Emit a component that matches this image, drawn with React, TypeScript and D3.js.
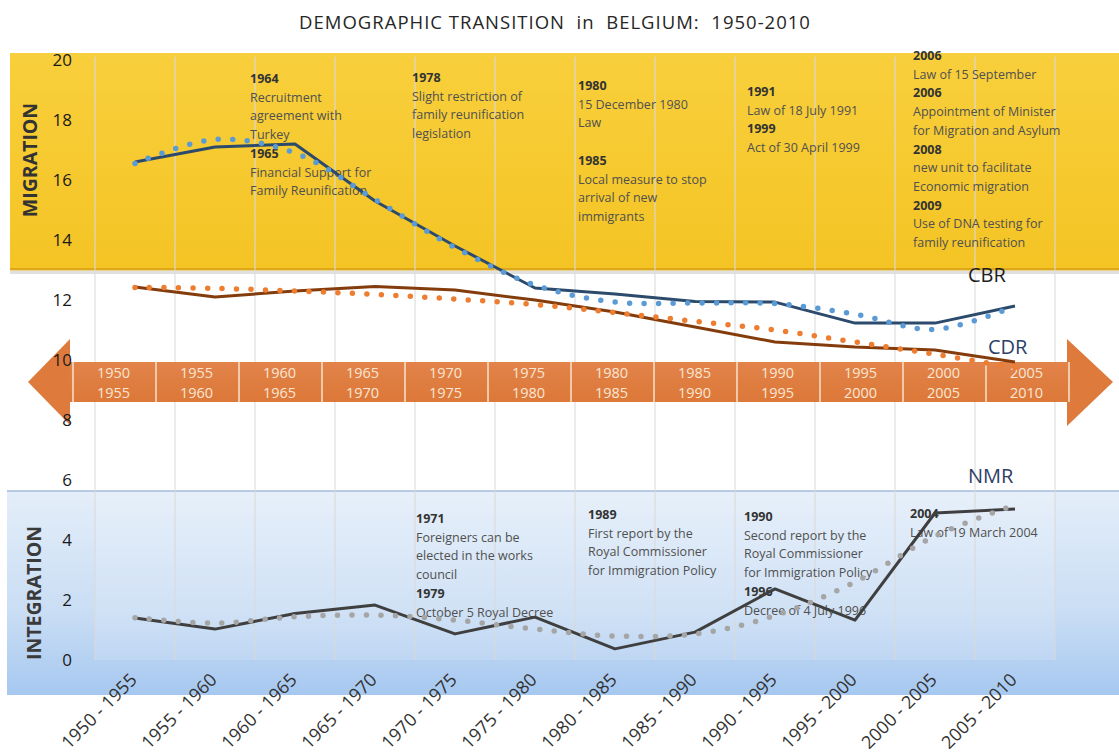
import React from "react";
import * as d3 from "d3";

// ---------- DATA ----------
const categories = [
  "1950 - 1955", "1955 - 1960", "1960 - 1965", "1965 - 1970", "1970 - 1975", "1975 - 1980",
  "1980 - 1985", "1985 - 1990", "1990 - 1995", "1995 - 2000", "2000 - 2005", "2005 - 2010",
];
const periodStarts = ["1950", "1955", "1960", "1965", "1970", "1975", "1980", "1985", "1990", "1995", "2000", "2005"];
const periodEnds = ["1955", "1960", "1965", "1970", "1975", "1980", "1985", "1990", "1995", "2000", "2005", "2010"];

const cbr = [16.6, 17.1, 17.2, 15.3, 13.8, 12.4, 12.2, 11.95, 11.93, 11.23, 11.23, 11.8];
const cbrTrend = [16.55, 17.35, 16.9, 15.35, 13.75, 12.5, 11.93, 11.9, 11.88, 11.53, 11.02, 11.8];
const cdr = [12.43, 12.1, 12.3, 12.45, 12.33, 12.0, 11.6, 11.1, 10.6, 10.43, 10.33, 9.93];
const cdrTrend = [12.42, 12.39, 12.3, 12.19, 12.03, 11.85, 11.58, 11.29, 11.0, 10.6, 10.19, 9.75];
const nmr = [1.4, 1.03, 1.55, 1.83, 0.87, 1.43, 0.37, 0.93, 2.37, 1.33, 4.9, 5.03];
const nmrTrend = [1.41, 1.23, 1.44, 1.5, 1.33, 1.03, 0.8, 0.87, 1.48, 2.6, 4.13, 5.17];

const yTicks = [0, 2, 4, 6, 8, 10, 12, 14, 16, 18, 20];

const title = "DEMOGRAPHIC TRANSITION  in  BELGIUM:  1950-2010";

// annotation texts ("**" = bold year)
const noteMigration1 = ["**1964", "Recruitment", "agreement with", "Turkey", "**1965", "Financial Support for", "Family Reunification"];
const noteMigration2 = ["**1978", "Slight restriction of", "family reunification", "legislation"];
const noteMigration3 = ["**1980", "15 December 1980", "Law", "", "**1985", "Local measure to stop", "arrival of new", "immigrants"];
const noteMigration4 = ["**1991", "Law of 18 July 1991", "**1999", "Act of 30 April 1999"];
const noteMigration5 = [
  "**2006", "Law of 15 September", "**2006", "Appointment of Minister", "for Migration and Asylum",
  "**2008", "new unit to facilitate", "Economic migration", "**2009", "Use of DNA testing for", "family reunification",
];
const noteIntegration1 = ["**1971", "Foreigners can be", "elected in the works", "council", "**1979", "October 5 Royal Decree"];
const noteIntegration2 = ["**1989", "First report by the", "Royal Commissioner", "for Immigration Policy"];
const noteIntegration3 = ["**1990", "Second report by the", "Royal Commissioner", "for Immigration Policy", "**1996", "Decree of 4 July 1996"];
const noteIntegration4 = ["**2004", "Law of 19 March 2004"];

// ---------- LAYOUT ----------
const W = 1119;
const H = 756;
const FONT = "'Open Sans', 'DejaVu Sans', sans-serif";

const noteLayout: [string[], number, number][] = [
  [noteMigration1, 250, 83],
  [noteMigration2, 412, 82],
  [noteMigration3, 578, 90],
  [noteMigration4, 747, 96],
  [noteMigration5, 913, 60],
  [noteIntegration1, 416, 523],
  [noteIntegration2, 588, 519],
  [noteIntegration3, 744, 521],
  [noteIntegration4, 910, 518],
];

export default function App() {
  const x = d3.scaleBand<string>().domain(categories).range([95, 1055]).padding(0);
  const cx = (i: number) => (x(categories[i]) as number) + x.bandwidth() / 2;
  const y = d3.scaleLinear().domain([0, 20]).range([660, 60]);

  const mkLine = (vals: number[], curve: d3.CurveFactory) =>
    d3.line<number>().x((_, i) => cx(i)).y((d) => y(d)).curve(curve)(vals) || "";

  const band = d3.scaleBand<string>().domain(periodStarts).range([73, 1069]).padding(0);

  const gridXs = [...categories.map((c) => x(c) as number), 1055];

  const lh = 18.7;

  return (
    <svg
      width={W}
      height={H}
      viewBox={`0 0 ${W} ${H}`}
      style={{ position: "absolute", left: 0, top: 0, background: "#fff" }}
      fontFamily={FONT}
    >
      <defs>
        <linearGradient id="yellowGrad" x1="0" y1="0" x2="0" y2="1">
          <stop offset="0%" stopColor="#F8CF3C" />
          <stop offset="100%" stopColor="#F4C424" />
        </linearGradient>
        <linearGradient id="blueGrad" x1="0" y1="0" x2="0" y2="1">
          <stop offset="0%" stopColor="#E4EEF9" />
          <stop offset="60%" stopColor="#C9DDF4" />
          <stop offset="100%" stopColor="#A6C8F0" />
        </linearGradient>
        <linearGradient id="orangeGrad" x1="0" y1="0" x2="0" y2="1">
          <stop offset="0%" stopColor="#E2834A" />
          <stop offset="100%" stopColor="#DC7838" />
        </linearGradient>
      </defs>

      {/* title */}
      <text x={555} y={29} textAnchor="middle" fontSize={18.5} letterSpacing={1} fill="#262626" style={{ whiteSpace: "pre" }}>
        {title}
      </text>

      {/* migration band */}
      <rect x={10} y={271} width={W - 10} height={3} fill="#000" opacity={0.12} />
      <rect x={10} y={53} width={W - 10} height={217} fill="url(#yellowGrad)" />
      <rect x={10} y={268} width={W - 10} height={2.5} fill="#DDA71C" />

      {/* integration box */}
      <rect x={7} y={491} width={W - 7} height={204} fill="url(#blueGrad)" />
      <line x1={7} x2={W} y1={491} y2={491} stroke="#A4BCDB" strokeWidth={1.5} />
      <rect x={95} y={492} width={960} height={168} fill="#fff" opacity={0.13} />

      {/* vertical gridlines */}
      {gridXs.map((gx, i) => (
        <line key={i} x1={gx} x2={gx} y1={57} y2={660} stroke="#DADADA" strokeWidth={1.2} opacity={0.9} />
      ))}

      {/* orange timeline arrow */}
      <g>
        <polygon points={`70,339 28,382 70,425`} fill="#DE7B3C" />
        <polygon points={`1067,339 1113,382 1067,426`} fill="#DE7B3C" />
        <rect x={70} y={362} width={1000} height={40} fill="url(#orangeGrad)" />
        {periodStarts.map((p, i) => {
          const bx = band(p) as number;
          return (
            <g key={p}>
              <line x1={bx} x2={bx} y1={362} y2={402} stroke="#F6DCC6" strokeWidth={1.6} />
              <text x={bx + 24} y={378} fontSize={14.5} fill="#FBE6D4">{p}</text>
              <text x={bx + 24} y={398} fontSize={14.5} fill="#FBE6D4">{periodEnds[i]}</text>
            </g>
          );
        })}
        <line x1={1069} x2={1069} y1={362} y2={402} stroke="#F6DCC6" strokeWidth={1.6} />
      </g>

      {/* y tick labels */}
      {yTicks.map((t) => (
        <text key={t} x={72} y={y(t) + 6} textAnchor="end" fontSize={17} fill="#1a1a1a">
          {t}
        </text>
      ))}

      {/* section labels */}
      <text
        transform={`translate(37,160) rotate(-90)`}
        textAnchor="middle"
        fontSize={19.5}
        fontWeight="bold"
        fill="#333"
      >
        MIGRATION
      </text>
      <text
        transform={`translate(41,593) rotate(-90)`}
        textAnchor="middle"
        fontSize={19.5}
        fontWeight="bold"
        fill="#3a3a3a"
      >
        INTEGRATION
      </text>

      {/* annotations */}
      {noteLayout.map(([lines, nx, ny], k) => (
        <g key={k}>
          {lines.map((ln, j) => {
            const bold = ln.startsWith("**");
            return (
              <text
                key={j}
                x={nx}
                y={ny + j * lh}
                fontSize={12.5}
                fontWeight={bold ? "bold" : "normal"}
                fill={bold ? "#333" : "#505050"}
              >
                {bold ? ln.slice(2) : ln}
              </text>
            );
          })}
        </g>
      ))}

      {/* series */}
      <path d={mkLine(cbr, d3.curveLinear)} fill="none" stroke="#2C4A6B" strokeWidth={3} strokeLinejoin="round" />
      <path d={mkLine(cbrTrend, d3.curveCatmullRom)} fill="none" stroke="#5B9BD5" strokeWidth={5.5} strokeDasharray="0 14.5" strokeLinecap="round" />
      <path d={mkLine(cdr, d3.curveLinear)} fill="none" stroke="#843C0C" strokeWidth={3} strokeLinejoin="round" />
      <path d={mkLine(cdrTrend, d3.curveCatmullRom)} fill="none" stroke="#ED7D31" strokeWidth={5.5} strokeDasharray="0 14.5" strokeLinecap="round" />
      <path d={mkLine(nmr, d3.curveLinear)} fill="none" stroke="#3F3F3F" strokeWidth={3} strokeLinejoin="round" />
      <path d={mkLine(nmrTrend, d3.curveCatmullRom)} fill="none" stroke="#A5A5A5" strokeWidth={5.5} strokeDasharray="0 14.5" strokeLinecap="round" />

      {/* series labels */}
      <text x={968} y={282} fontSize={20} fill="#1d1d1d">CBR</text>
      <text x={988} y={354} fontSize={20} fill="#2E3E66">CDR</text>
      <text x={968} y={483} fontSize={20} fill="#2E3E66">NMR</text>

      {/* x axis labels */}
      {categories.map((c, i) => (
        <text
          key={c}
          transform={`translate(${cx(i) + 3},${681}) rotate(-45)`}
          textAnchor="end"
          fontSize={18}
          fill="#333"
        >
          {c}
        </text>
      ))}
    </svg>
  );
}
